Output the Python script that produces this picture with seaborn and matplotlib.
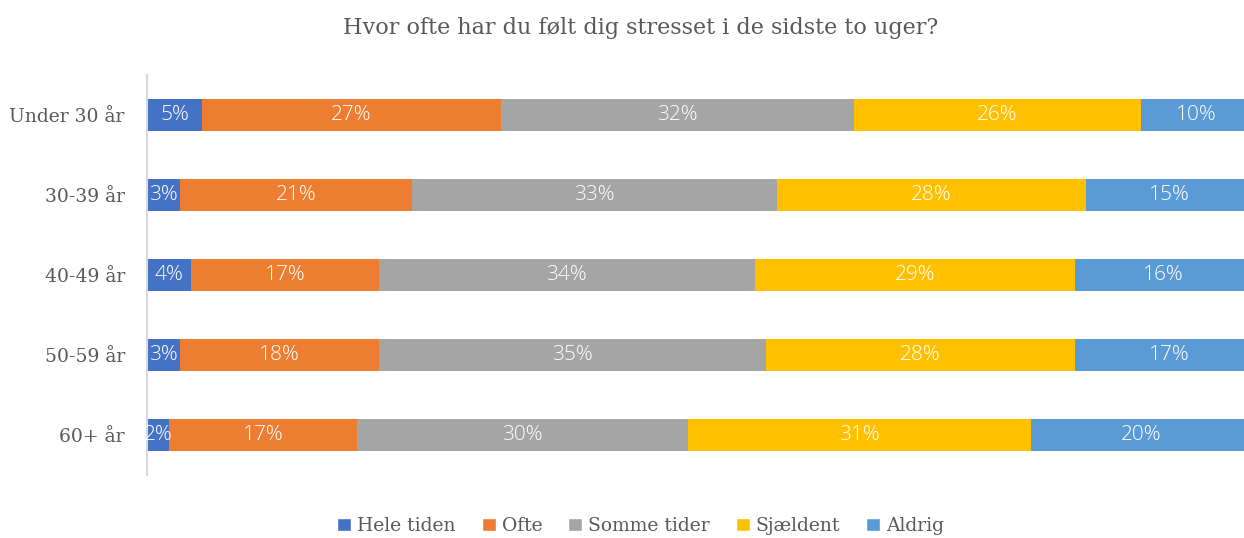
import matplotlib
matplotlib.use("Agg")
import matplotlib.pyplot as plt
import seaborn as sns
import numpy as np
import pandas as pd
from matplotlib.patches import Patch

categories = ["Under 30 år", "30-39 år", "40-49 år", "50-59 år", "60+ år"]
series_names = ["Hele tiden", "Ofte", "Somme tider", "Sjældent", "Aldrig"]
hele_tiden = [5, 3, 4, 3, 2]
ofte = [27, 21, 17, 18, 17]
somme_tider = [32, 33, 34, 35, 30]
sjaeldent = [26, 28, 29, 28, 31]
aldrig = [10, 15, 16, 17, 20]
colors = ["#4472C4", "#ED7D31", "#A5A5A5", "#FFC000", "#5B9BD5"]
title = "Hvor ofte har du følt dig stresset i de sidste to uger?"

sns.set_theme(style="white")
serif = ["DejaVu Serif"]
plt.rcParams['font.family'] = serif

data = np.array([hele_tiden, ofte, somme_tider, sjaeldent, aldrig], dtype=float)
cum = np.cumsum(data, axis=0)

fig = plt.figure(figsize=(12.44, 5.38), dpi=100)
ax = fig.add_axes([147/1244, 1-475/538, 1-147/1244, 400/538])

for i in reversed(range(len(series_names))):
    df = pd.DataFrame({"cat": categories, "val": cum[i]})
    sns.barplot(data=df, x="val", y="cat", color=colors[i], width=0.4,
                orient="h", ax=ax, saturation=1, linewidth=0, order=categories)

for i in range(len(series_names)):
    for j in range(len(categories)):
        start = cum[i][j] - data[i][j]
        center = start + data[i][j] / 2
        ax.text(center, j, f"{int(data[i][j])}%", ha="center", va="center",
                color="white", fontsize=15, family=["Open Sans", "DejaVu Sans"],
                fontweight="light", clip_on=False)

ax.set_xlim(0, 99.3)
ax.set_ylim(4.5, -0.5)
ax.set_xlabel("")
ax.set_ylabel("")
ax.set_xticks([])
ax.tick_params(axis="y", length=0, pad=16, labelsize=13.5, labelcolor="#595959")
for s in ["top", "right", "bottom"]:
    ax.spines[s].set_visible(False)
ax.spines["left"].set_color("#D9D9D9")
ax.spines["left"].set_linewidth(1.5)

fig.suptitle(title, x=0.515, y=0.968, fontsize=16, color="#595959")

handles = [Patch(facecolor=c, label=n) for c, n in zip(colors, series_names)]
fig.legend(handles=handles, loc="center", bbox_to_anchor=(0.515, 0.022), ncol=5,
           frameon=False, fontsize=13.5, handlelength=0.75, handleheight=0.75,
           handletextpad=0.3, columnspacing=1.4, labelcolor="#595959")

fig.savefig("out.png", dpi=100)
